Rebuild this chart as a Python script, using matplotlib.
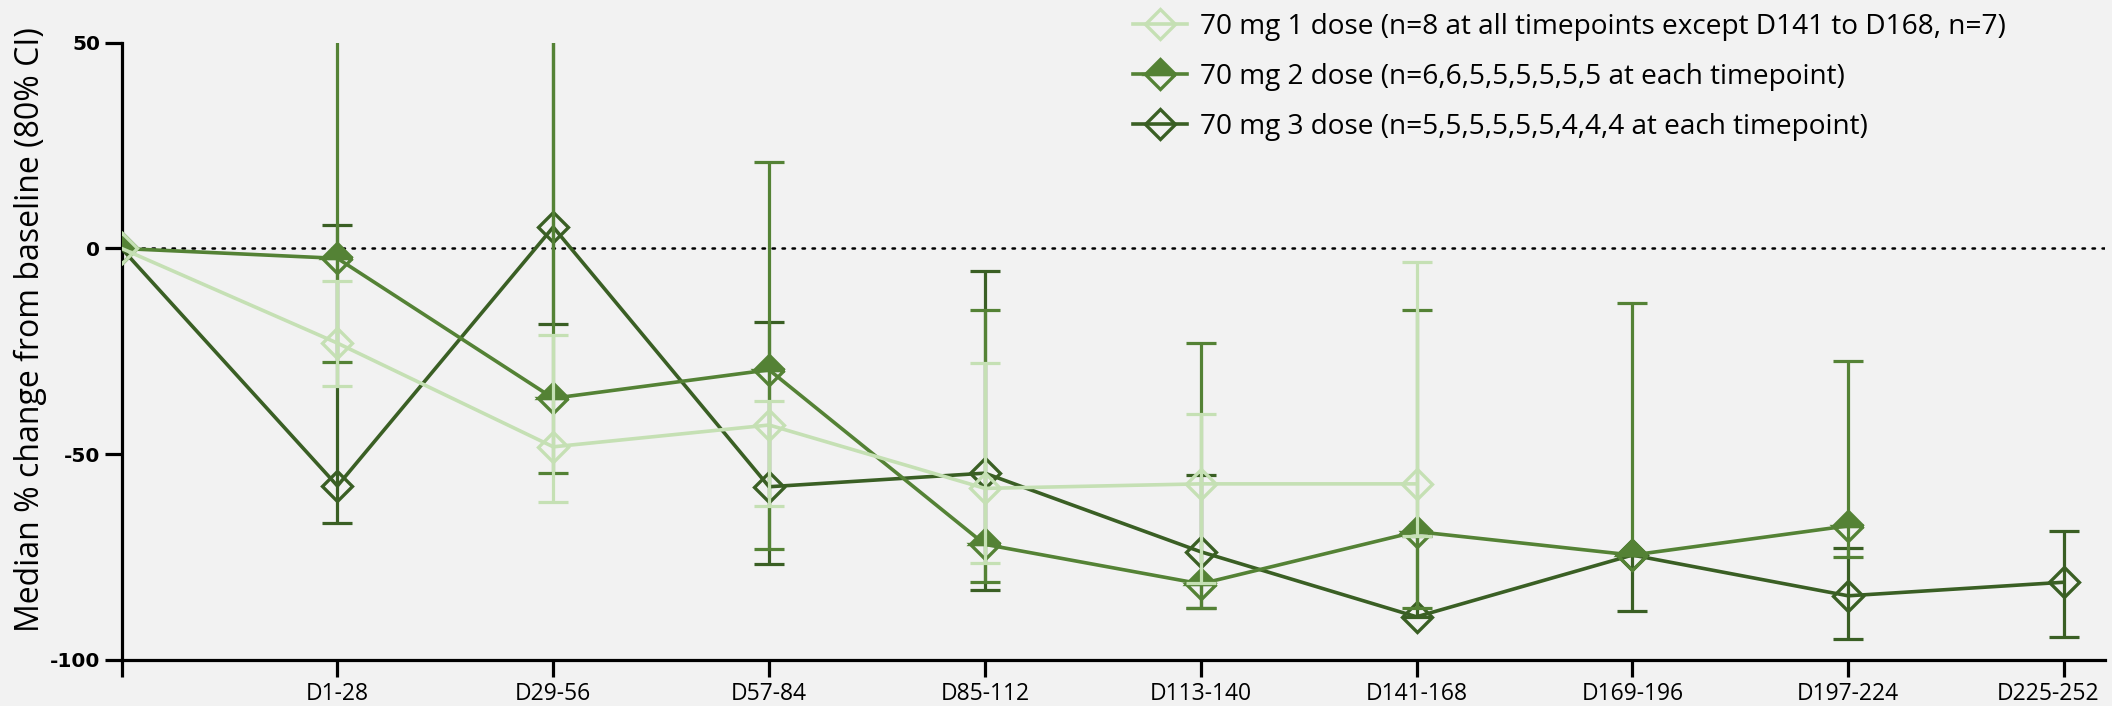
import numpy as np
import matplotlib
matplotlib.use('Agg')
import matplotlib.pyplot as plt
from matplotlib.lines import Line2D

# timepoint windows (baseline sits at x=0 with no label)
periods = ['', 'D1-28', 'D29-56', 'D57-84', 'D85-112', 'D113-140',
           'D141-168', 'D169-196', 'D197-224', 'D225-252']

# median % change from baseline and 80% CI bounds per dose group
dose1_med = [0, -23.0, -48.2, -42.9, -58.3, -57.2, -57.2]
dose1_lo = [0, -33.4, -61.5, -62.6, -76.4, -81.4, -69.9]
dose1_hi = [0, -7.8, -21.0, -37.1, -27.9, -40.3, -3.2]

dose2_med = [0, -2.4, -36.4, -29.5, -71.9, -81.5, -68.8, -74.5, -67.4]
dose2_lo = [0, -27.5, -54.5, -73.1, -81.0, -87.4, -87.4, -74.5, -74.9]
dose2_hi = [0, 65.0, 65.0, 20.9, -15.0, -23.0, -14.9, -13.3, -27.3]

dose3_med = [0, -57.7, 5.2, -57.9, -54.6, -73.7, -89.5, -74.5, -84.4, -81.1]
dose3_lo = [0, -66.6, -18.3, -76.7, -83.0, -87.4, -89.5, -88.0, -95.0, -94.3]
dose3_hi = [0, 5.8, 65.0, -17.8, -5.4, -55.0, -69.9, -74.5, -72.7, -68.6]

labels = ['70 mg 1 dose (n=8 at all timepoints except D141 to D168, n=7)',
          '70 mg 2 dose (n=6,6,5,5,5,5,5,5 at each timepoint)',
          '70 mg 3 dose (n=5,5,5,5,5,5,4,4,4 at each timepoint)']
colors = ['#c5e0b4', '#548235', '#3a5f24']

BG = '#f2f2f2'
TXT = 'Open Sans'

W, H = 2112, 706
fig = plt.figure(figsize=(W / 100, H / 100), dpi=100, facecolor=BG)
ax_l, ax_r, ax_t, ax_b = 121.6, 2105, 42.7, 660
ax = fig.add_axes([ax_l / W, 1 - ax_b / H, (ax_r - ax_l) / W, (ax_b - ax_t) / H])
ax.set_facecolor(BG)

ax.axhline(0, color='black', lw=1.8, ls=(0, (1, 3)), dash_capstyle='round', zorder=1)

series = [
    (dose3_med, dose3_lo, dose3_hi, colors[2], False, 2),
    (dose2_med, dose2_lo, dose2_hi, colors[1], True, 4),
    (dose1_med, dose1_lo, dose1_hi, colors[0], False, 6),
]
for med, lo, hi, c, half, z in series:
    med = np.array(med)
    lo = np.array(lo)
    hi = np.array(hi)
    x = np.arange(len(med))
    ax.errorbar(x[1:], med[1:], yerr=[med[1:] - lo[1:], hi[1:] - med[1:]],
                fmt='none', ecolor=c, elinewidth=2.3, capsize=11, capthick=2.3,
                zorder=z)
    kw = dict(fillstyle='top', markerfacecolor=c, markerfacecoloralt='none') if half \
        else dict(markerfacecolor='none')
    ax.plot(x, med, color=c, lw=2.6, marker='D', ms=15, mec=c, mew=2.4,
            zorder=z + 1, **kw)

ax.set_xlim(0, 9.19)
ax.set_ylim(-100, 50)
ax.set_xticks(range(len(periods)))
# last period label is drawn separately so it stays inside the figure edge
ax.set_xticklabels(periods[:-1] + [''], fontfamily=TXT, fontsize=16.5)
ax.annotate(periods[-1], xy=(len(periods) - 1, 0), xycoords=ax.get_xaxis_transform(),
            xytext=(-11.5, -16), textcoords='offset points', ha='center', va='top',
            fontfamily=TXT, fontsize=16.5, annotation_clip=False)
ax.set_yticks([-100, -50, 0, 50])
ax.set_yticklabels(['-100', '-50', '0', '50'], fontfamily='DejaVu Sans',
                   fontweight='bold', fontsize=14.5)
for side in ['top', 'right']:
    ax.spines[side].set_visible(False)
for side in ['left', 'bottom']:
    ax.spines[side].set_linewidth(2.3)
    ax.spines[side].set_color('black')
ax.tick_params(axis='y', length=12.5, width=2.3, pad=3)
ax.tick_params(axis='x', length=12, width=2.3, pad=4)

fig.text(30 / W, 1 - 330 / H, 'Median % change from baseline (80% CI)',
         rotation=90, ha='center', va='center', fontfamily=TXT, fontsize=23)

handles = [
    Line2D([], [], color=colors[0], lw=2.6, marker='D', ms=15, mec=colors[0],
           mew=2.4, markerfacecolor='none'),
    Line2D([], [], color=colors[1], lw=2.6, marker='D', ms=15, mec=colors[1],
           mew=2.4, fillstyle='top', markerfacecolor=colors[1],
           markerfacecoloralt='none'),
    Line2D([], [], color=colors[2], lw=2.6, marker='D', ms=15, mec=colors[2],
           mew=2.4, markerfacecolor='none'),
]
fig.legend(handles, labels, loc='upper left', bbox_to_anchor=(1133 / W, 1 - 13 / H),
           frameon=False, prop={'family': TXT, 'size': 20.2}, handlelength=1.93,
           handletextpad=0.46, labelspacing=0.78, borderaxespad=0, borderpad=0)

fig.savefig('out.png', dpi=100, facecolor=BG)
